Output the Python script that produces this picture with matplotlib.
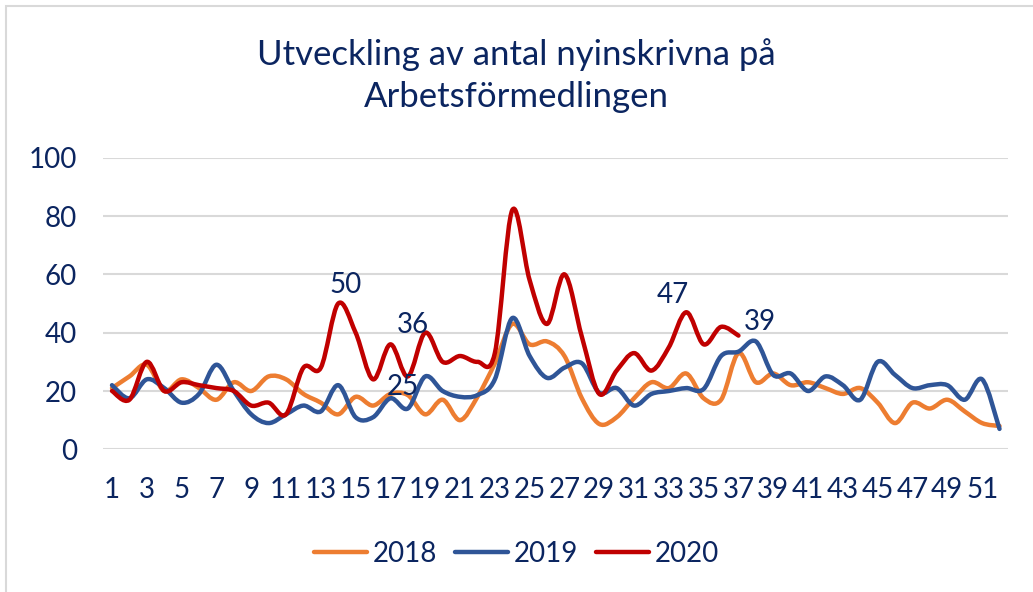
import numpy as np
import matplotlib.pyplot as plt
from matplotlib.path import Path
from matplotlib.patches import PathPatch, Rectangle
from matplotlib.lines import Line2D

# veckovärden
weeks = np.arange(1, 53)

y2018 = [21, 25, 29, 20, 24, 21, 17, 23, 20, 25, 24, 19, 16, 12, 18, 15, 19, 18.6,
         12, 17, 10, 18, 29.5, 43, 36, 37, 32, 17.5, 8.7, 11, 17.5, 23, 21, 26,
         17.5, 17, 33, 23, 26, 22, 23, 21, 19, 21, 16, 9, 16, 14, 17, 13, 9, 8]

y2019 = [22, 17.5, 24, 21, 16, 19, 29, 20, 12, 9, 12, 15, 13, 22, 11, 11, 17.5, 14,
         25, 20, 18, 18.6, 24, 45, 32, 24.5, 28, 29.5, 19.4, 21, 15, 19, 20, 21,
         20.7, 32, 33.5, 37, 25.5, 26, 20, 25, 22, 17, 30, 25.5, 21, 22, 22, 17, 24, 7]

y2020 = [20, 17, 30, 20, 23, 22, 21, 20, 15, 16, 12, 28, 28, 50, 40, 24, 36, 25,
         40, 30, 32, 30, 33, 82, 58, 43, 60, 38.6, 19, 27, 33, 27, 35, 47, 36, 42, 39]

series = [("2018", y2018, "#ED7D31"), ("2019", y2019, "#2F5597"), ("2020", y2020, "#C00000")]

# etiketter: (vecka, värde, x-förskjutning, y-förskjutning i punkter)
labels = [(14, 50, 5, 13.3), (17, 36, 16, 14), (18, 25, -3.5, -7.6), (34, 47, -9.4, 12.4), (37, 39, 15.5, 9.7)]

navy = "#0B2560"
plt.rcParams['font.family'] = ['Lato', 'DejaVu Sans']


def smooth_path(x, y):
    # kubiska bezierkurvor genom punkterna, som Excels utjämnade linjer
    pts = np.column_stack([x, y]).astype(float)
    n = len(pts)
    verts = [pts[0]]
    codes = [Path.MOVETO]
    for i in range(n - 1):
        p0 = pts[max(i - 1, 0)]
        p1 = pts[i]
        p2 = pts[i + 1]
        p3 = pts[min(i + 2, n - 1)]
        verts += [p1 + (p2 - p0) / 6, p2 - (p3 - p1) / 6, p2]
        codes += [Path.CURVE4] * 3
    return Path(verts, codes)


fig = plt.figure(figsize=(10.33, 5.92), dpi=100)
fig.patches.append(Rectangle((6 / 1033, -0.1), 1.2, 1 - 6 / 592 + 0.1, transform=fig.transFigure,
                             fill=False, edgecolor="#D9D9D9", linewidth=1.5))
ax = fig.add_axes([0.1, 0.241, 0.876, 0.4926])

for name, vals, col in series:
    p = smooth_path(weeks[:len(vals)], vals)
    ax.add_patch(PathPatch(p, fill=False, edgecolor=col, linewidth=3.2, capstyle='round',
                           joinstyle='round', zorder=3))

for wk, val, dx, dy in labels:
    ax.annotate(str(val), (wk, val), xytext=(dx, dy), textcoords='offset points',
                ha='center', va='center', fontsize=20, color=navy)

ax.set_xlim(0.5, 52.5)
ax.set_ylim(0, 100)
ax.set_yticks(range(0, 101, 20))
ax.set_xticks(range(1, 52, 2))
ax.tick_params(length=0, labelsize=20, labelcolor=navy)
ax.tick_params(axis='y', pad=19)
ax.tick_params(axis='x', pad=20)
ax.grid(axis='y', color="#D9D9D9", linewidth=1.5)
ax.set_axisbelow(True)
for s in ax.spines.values():
    s.set_visible(False)

fig.text(0.5, 0.872, "Utveckling av antal nyinskrivna på\nArbetsförmedlingen", ha='center', va='center',
         fontsize=25, color=navy, linespacing=1.38)

handles = [Line2D([], [], color=c, linewidth=3.2, solid_capstyle='round') for _, _, c in series]
fig.legend(handles, [n for n, _, _ in series], loc='center', bbox_to_anchor=(0.5, 0.065), ncol=3,
           frameon=False, fontsize=20, labelcolor=navy, handlelength=1.9, handletextpad=0.2,
           columnspacing=0.65)

fig.savefig("out.png", dpi=100)
